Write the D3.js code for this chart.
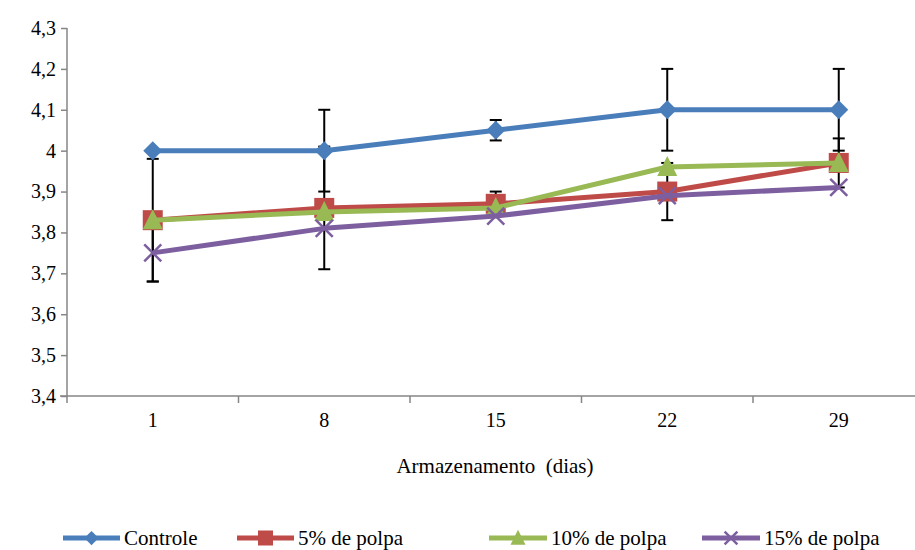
<!DOCTYPE html>
<html><head><meta charset="utf-8">
<script src="https://cdn.jsdelivr.net/npm/d3@7"></script>
</head>
<body style="margin:0;background:#fff">
<svg id="c" width="915" height="550" font-family="serif"></svg>
<script>
const categories = ["1","8","15","22","29"];
const seriesNames = ["Controle","5% de polpa","10% de polpa","15% de polpa"];
const controle = [4.0, 4.0, 4.05, 4.1, 4.1];
const polpa5 = [3.83, 3.86, 3.87, 3.90, 3.97];
const polpa10 = [3.83, 3.85, 3.86, 3.96, 3.97];
const polpa15 = [3.75, 3.81, 3.84, 3.89, 3.91];
const errControle = [0, 0.10, 0.025, 0.10, 0.10];
const err5 = [0.15, 0.15, 0.03, 0.07, 0.06];
const err10 = [0, 0, 0, 0, 0];
const err15 = [0.07, 0, 0, 0, 0];
const yTicks = [3.4,3.5,3.6,3.7,3.8,3.9,4.0,4.1,4.2,4.3];
const colors = ["#4A7EBB","#BE4B48","#98B954","#7D5FA0"];
const markers = ["diamond","square","triangle","x"];

const values = [controle, polpa5, polpa10, polpa15];
const errors = [errControle, err5, err10, err15];
const FONT = "serif";

const svg = d3.select("#c");
const mLeft = 67, mTop = 28, mBottom = 396, band = 171.5;
const x = d3.scaleBand().domain(categories).range([mLeft, mLeft + band*categories.length]).paddingInner(0).paddingOuter(0);
const y = d3.scaleLinear().domain([3.4, 4.3]).range([mBottom, mTop]);
const fmt = v => (Math.round(v*10)/10).toString().replace(".", ",");
const serif = sel => sel.attr("font-family", FONT).style("font-family", FONT);

// Y axis
const yAxis = svg.append("g").attr("transform",`translate(${mLeft},0)`)
  .call(d3.axisLeft(y).tickValues(yTicks).tickFormat(fmt).tickSize(6).tickPadding(5));
yAxis.attr("font-family",FONT).attr("font-size",20);
yAxis.select(".domain").attr("stroke","#868686").attr("stroke-width",1.5).attr("d",`M0,${mTop}V${mBottom}`);
yAxis.selectAll(".tick line").attr("stroke","#868686").attr("stroke-width",1.5);
yAxis.selectAll(".tick text").attr("font-size",20).attr("fill","#000").call(serif);

// X axis
const xAxis = svg.append("g").attr("transform",`translate(0,${mBottom})`)
  .call(d3.axisBottom(x).tickSize(0).tickPadding(17));
xAxis.attr("font-family",FONT).attr("font-size",20);
xAxis.select(".domain").attr("stroke","#868686").attr("stroke-width",1.5).attr("d",`M${mLeft-7},0H915`);
xAxis.selectAll(".tick text").attr("font-size",20).attr("fill","#000").call(serif);
// category boundary ticks
const bounds = d3.range(categories.length+1).map(i => mLeft + i*band);
svg.append("g").selectAll("line").data(bounds).join("line")
  .attr("x1",d=>d).attr("x2",d=>d).attr("y1",mBottom).attr("y2",mBottom+7)
  .attr("stroke","#868686").attr("stroke-width",1.5);

// X title
svg.append("text").attr("x",495).attr("y",473).attr("text-anchor","middle")
  .attr("font-size",21).attr("fill","#000")
  .style("white-space","pre").call(serif).text("Armazenamento  (dias)");

const cx = c => x(c) + x.bandwidth()/2;

// Error bars (behind)
const eg = svg.append("g");
values.forEach((vals, si) => {
  vals.forEach((v, i) => {
    const e = errors[si][i];
    if (!e) return;
    const xc = cx(categories[i]);
    eg.append("line").attr("x1",xc).attr("x2",xc).attr("y1",y(v+e)).attr("y2",y(v-e))
      .attr("stroke","#000").attr("stroke-width",2);
    [v+e, v-e].forEach(t => eg.append("line").attr("x1",xc-6).attr("x2",xc+6)
      .attr("y1",y(t)).attr("y2",y(t)).attr("stroke","#000").attr("stroke-width",2));
  });
});

function drawMarker(g, type, cxp, cyp, color, scale) {
  scale = scale || 1;
  if (type === "diamond") {
    const r = 9.5*scale;
    g.append("path").attr("d",`M${cxp},${cyp-r}L${cxp+r},${cyp}L${cxp},${cyp+r}L${cxp-r},${cyp}Z`).attr("fill",color);
  } else if (type === "square") {
    const r = 10*scale;
    g.append("rect").attr("x",cxp-r).attr("y",cyp-r).attr("width",2*r).attr("height",2*r).attr("fill",color);
  } else if (type === "triangle") {
    const r = 10*scale;
    g.append("path").attr("d",`M${cxp},${cyp-r*1.1}L${cxp+r},${cyp+r*0.9}L${cxp-r},${cyp+r*0.9}Z`).attr("fill",color);
  } else {
    const r = 8.5*scale;
    g.append("path").attr("d",`M${cxp-r},${cyp-r}L${cxp+r},${cyp+r}M${cxp-r},${cyp+r}L${cxp+r},${cyp-r}`)
      .attr("stroke",color).attr("stroke-width",2.5).attr("fill","none");
  }
}

const line = d3.line().x((d,i)=>cx(categories[i])).y(d=>y(d));
values.forEach((vals, si) => {
  const g = svg.append("g");
  g.append("path").datum(vals).attr("d",line).attr("fill","none")
    .attr("stroke",colors[si]).attr("stroke-width",5).attr("stroke-linejoin","round");
  vals.forEach((v,i)=> drawMarker(g, markers[si], cx(categories[i]), y(v), colors[si]));
});

// Legend
const legendItems = [
  {x0:63, x1:120, tx:124},
  {x0:237, x1:294, tx:298},
  {x0:489, x1:547, tx:551},
  {x0:702, x1:760, tx:764}
];
const ly = 538;
const lg = svg.append("g");
legendItems.forEach((it, si) => {
  lg.append("line").attr("x1",it.x0).attr("x2",it.x1).attr("y1",ly).attr("y2",ly)
    .attr("stroke",colors[si]).attr("stroke-width",5);
  drawMarker(lg, markers[si], (it.x0+it.x1)/2, ly, colors[si], 0.75);
  lg.append("text").attr("x",it.tx).attr("y",ly+7)
    .attr("font-size",21).attr("fill","#000").call(serif).text(seriesNames[si]);
});
</script></body></html>
